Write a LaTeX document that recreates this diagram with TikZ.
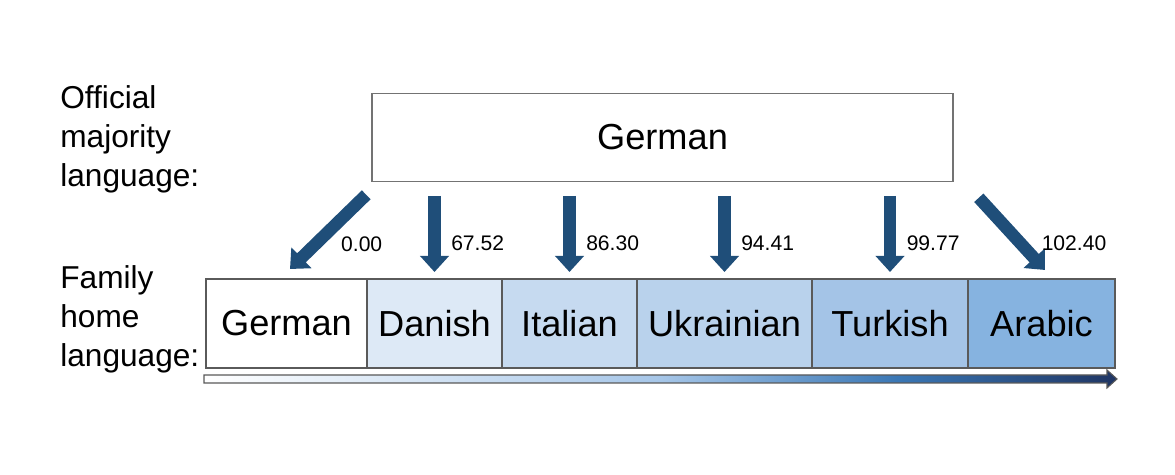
\documentclass[tikz,border=0pt]{standalone}
\usepackage{fontspec}
\setmainfont{Liberation Sans}
\usetikzlibrary{arrows.meta,positioning,calc}
\definecolor{arrowblue}{HTML}{1F4E79}
\definecolor{boxgray}{HTML}{5A5A5A}
\definecolor{dancol}{HTML}{DDE9F6}
\definecolor{itacol}{HTML}{C6DAF0}
\definecolor{ukrcol}{HTML}{B9D2EC}
\definecolor{turcol}{HTML}{A4C4E7}
\definecolor{aracol}{HTML}{86B3E0}
\definecolor{scalelight}{HTML}{A6C6E8}
\definecolor{scalemid}{HTML}{3A77B5}
\definecolor{scaledark}{HTML}{1F3563}
\pgfdeclarehorizontalshading{langscale}{100bp}{color(0bp)=(white); color(25bp)=(white); color(50bp)=(scalelight); color(63bp)=(scalemid); color(75bp)=(scaledark); color(100bp)=(scaledark)}

\begin{document}
\begin{tikzpicture}[
    lang/.style={draw=boxgray, line width=0.9pt, minimum height=1.78cm, inner sep=0pt, outer sep=0pt,
      font=\fontsize{20.6}{24}\selectfont},
    side/.style={align=left, anchor=west, inner sep=0pt, font=\fontsize{18}{22.2}\selectfont},
    flow/.style={arrowblue, line width=0.25cm, -{Triangle[width=0.56cm,length=0.32cm]}},
    val/.style={anchor=west, inner sep=0pt, text=black, font=\fontsize{12}{14}\selectfont}
  ]
  \useasboundingbox (0,0) rectangle (23.5,9.5);

  \node[side] (majlabel) at (1.2,6.72) {Official\\majority\\language:};
  \node[side] (homelabel) at (1.2,3.12) {Family\\home\\language:};

  \node[draw=gray!90!black, line width=0.9pt, minimum width=11.62cm, minimum height=1.76cm,
    font=\fontsize{20.6}{24}\selectfont] (major) at (13.25,6.75) {German};

  \node[lang, fill=white, minimum width=3.22cm, anchor=west] (ger) at (4.12,3.03) {German};
  \node[lang, fill=dancol, minimum width=2.70cm, right=0pt of ger] (dan) {Danish};
  \node[lang, fill=itacol, minimum width=2.70cm, right=0pt of dan] (ita) {Italian};
  \node[lang, fill=ukrcol, minimum width=3.50cm, right=0pt of ita] (ukr) {Ukrainian};
  \node[lang, fill=turcol, minimum width=3.12cm, right=0pt of ukr] (tur) {Turkish};
  \node[lang, fill=aracol, minimum width=2.94cm, right=0pt of tur] (ara) {Arabic};

  \draw[flow] ($(major.south west)+(-0.1,-0.25)$) --
    node[val, pos=.66, xshift=0.38cm] {0.00} ($(ger.north)+(0.07,0.2)$);
  \foreach \lang/\dist in {dan/67.52, ita/86.30, ukr/94.41, tur/99.77}
    \draw[flow] ($(\lang.north |- major.south)+(0,-0.27)$) --
      node[val, pos=.62, xshift=0.21cm] {\dist} ($(\lang.north)+(0,0.14)$);
  \draw[flow] ($(major.south east)+(0.5,-0.31)$) --
    node[val, pos=.63, xshift=0.3cm] {102.40} ($(ara.north)+(0.07,0.18)$);

  \shadedraw[shading=langscale, draw=gray!70!black, line width=0.6pt]
    (4.08,2.0) -- (22.14,2.0) -- (22.14,2.1) -- (22.34,1.92) -- (22.14,1.74)
    -- (22.14,1.84) -- (4.08,1.84) -- cycle;
\end{tikzpicture}
\end{document}
